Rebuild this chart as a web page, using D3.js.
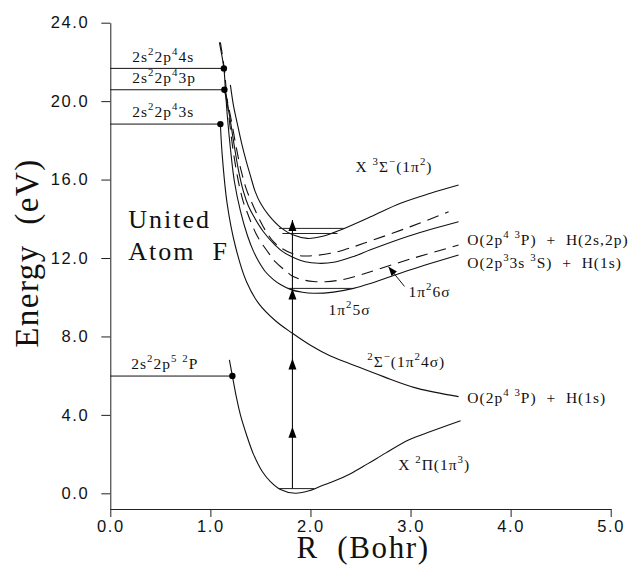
<!DOCTYPE html>
<html>
<head>
<meta charset="utf-8">
<script src="https://cdn.jsdelivr.net/npm/d3@7"></script>
<style>
body { margin: 0; background: #fff; }
text { fill: #111; white-space: pre; }
</style>
</head>
<body>
<svg id="chart" width="640" height="565"></svg>
<script>
var xTicks = [0, 1, 2, 3, 4, 5];
var yTicks = [0, 4, 8, 12, 16, 20, 24];

// potential curves as [R (bohr), E (eV)]
var groundX2Pi = [[1.19, 6.8], [1.22, 5.98], [1.26, 4.9], [1.30, 4.0], [1.36, 3.0], [1.43, 2.0],
    [1.52, 1.1], [1.60, 0.6], [1.70, 0.2], [1.85, 0], [2.0, 0.15], [2.1, 0.36], [2.25, 0.65],
    [2.4, 1.0], [2.57, 1.5], [2.75, 2.05], [2.98, 2.72], [3.2, 3.15], [3.5, 3.7]];

var sigma4 = [[1.10, 18.83], [1.117, 17.34], [1.167, 14.79], [1.25, 12.6], [1.36, 10.8],
    [1.48, 9.7], [1.65, 8.8], [1.82, 8.16], [2.0, 7.55], [2.2, 7.0], [2.4, 6.6], [2.73, 5.95],
    [3.07, 5.35], [3.48, 4.93]];

var sigma5 = [[1.09, 23.0], [1.135, 21.67], [1.15, 20.58], [1.17, 19.2], [1.20, 17.6], [1.24, 15.9],
    [1.30, 14.4], [1.37, 13.15], [1.43, 12.35], [1.48, 11.85], [1.55, 11.3], [1.63, 10.9],
    [1.70, 10.65], [1.80, 10.4], [1.92, 10.25], [2.03, 10.2], [2.23, 10.26], [2.43, 10.45],
    [2.6, 10.7], [3.0, 11.4], [3.48, 12.15]];

var sigma6 = [[1.10, 23.0], [1.14, 21.6], [1.16, 20.5], [1.19, 19.0], [1.23, 17.4], [1.28, 15.9],
    [1.33, 14.85], [1.363, 14.4], [1.397, 13.94], [1.463, 13.17], [1.513, 12.75], [1.597, 12.15],
    [1.647, 11.81], [1.763, 11.3], [1.813, 11.1], [1.90, 10.92], [2.03, 10.8], [2.15, 10.79],
    [2.33, 10.9], [2.45, 11.06], [2.6, 11.3], [3.0, 11.95], [3.48, 12.66]];

var midSolid = [[1.14, 20.58], [1.19, 19.3], [1.23, 18.0], [1.28, 16.5], [1.33, 15.4], [1.38, 14.65],
    [1.43, 14.15], [1.53, 13.34], [1.647, 12.66], [1.73, 12.3], [1.813, 12.07], [1.947, 11.81],
    [2.08, 11.73], [2.233, 11.78], [2.433, 12.08], [2.6, 12.42], [3.0, 13.15], [3.48, 13.85]];

var upperDashed = [[1.15, 20.5], [1.21, 19.0], [1.26, 17.6], [1.31, 16.4], [1.36, 15.5], [1.41, 14.87],
    [1.497, 13.9], [1.547, 13.43], [1.63, 12.83], [1.713, 12.49], [1.847, 12.17], [1.947, 12.1],
    [2.05, 12.13], [2.2, 12.24], [2.333, 12.41], [2.533, 12.75], [3.0, 13.6], [3.38, 14.36]];

var x3Sigma = [[1.20, 20.83], [1.23, 19.8], [1.267, 18.9], [1.31, 17.9], [1.36, 16.9], [1.40, 16.2],
    [1.447, 15.4], [1.50, 14.8], [1.58, 14.2], [1.713, 13.51], [1.83, 13.17], [1.967, 13.0],
    [2.133, 13.12], [2.3, 13.43], [2.6, 14.1], [2.9, 14.79], [3.2, 15.3], [3.48, 15.72]];

// united atom levels: energy and where the level meets its curve
var atomLevelE = [21.67, 20.58, 18.83, 5.98];
var atomLevelR = [1.135, 1.14, 1.10, 1.22];

// vibrational levels drawn as short horizontal bars
var vibE = [0.24, 10.45, 13.25, 13.51];
var vibR0 = [1.68, 1.783, 1.72, 1.685];
var vibR1 = [2.04, 2.417, 2.27, 2.335];

// vertical excitation line with arrowheads
var transitionR = 1.82;
var transitionE = [0.24, 13.94];
var arrowTipsE = [3.4, 6.88, 10.45, 13.94];

// pointer from the 1pi^2 6sigma label to its curve
var pointerFrom = [2.94, 10.55];
var pointerTo = [2.78, 11.55];

var labelText = ["2s^{2}2p^{4}4s", "2s^{2}2p^{4}3p", "2s^{2}2p^{4}3s", "2s^{2}2p^{5} ^{2}P",
    "X ^{3}Σ^{−}(1π^{2})", "O(2p^{4} ^{3}P)  +  H(2s,2p)", "O(2p^{3}3s ^{3}S)  +  H(1s)",
    "1π^{2}6σ", "1π^{2}5σ", "^{2}Σ^{−}(1π^{2}4σ)", "O(2p^{4} ^{3}P)  +  H(1s)", "X ^{2}Π(1π^{3})"];
var labelR = [0.22, 0.22, 0.22, 0.21, 2.45, 3.567, 3.567, 2.98, 2.18, 2.567, 3.567, 2.876];
var labelE = [22.01, 20.91, 19.19, 6.32, 16.4, 12.66, 11.47, 10.03, 9.09, 6.46, 4.59, 1.19];

var svg = d3.select("#chart");

var x = d3.scaleLinear().domain([0, 5]).range([110.3, 610.7]);
var y = d3.scaleLinear().domain([-0.8, 24]).range([509, 22.7]);

svg.append("rect").attr("width", 640).attr("height", 565).attr("fill", "#fff");

// axes
var yAxis = svg.append("g")
    .attr("transform", "translate(" + x(0) + ",0)")
    .call(d3.axisLeft(y).tickValues(yTicks).tickFormat(d3.format(".1f"))
        .tickSize(9).tickSizeOuter(0).tickPadding(12));

var xAxis = svg.append("g")
    .attr("transform", "translate(0," + y(-0.8) + ")")
    .call(d3.axisBottom(x).tickValues(xTicks).tickFormat(d3.format(".1f"))
        .tickSize(8).tickSizeOuter(0).tickPadding(3));

[yAxis, xAxis].forEach(function(a) {
    a.selectAll("path, line").attr("stroke", "#222").attr("stroke-width", 1);
    a.selectAll("text")
        .attr("font-family", "'Liberation Sans', Arial, sans-serif")
        .attr("font-size", 16.5)
        .attr("letter-spacing", 1.6)
        .attr("fill", "#222");
});

svg.append("text")
    .attr("transform", "translate(38,253) rotate(-90)")
    .attr("text-anchor", "middle")
    .attr("font-family", "'Liberation Serif', 'Times New Roman', serif")
    .attr("font-size", 33)
    .attr("letter-spacing", 1.5)
    .text("Energy\u00a0\u00a0(eV)");

svg.append("text")
    .attr("x", 363).attr("y", 558)
    .attr("text-anchor", "middle")
    .attr("font-family", "'Liberation Serif', 'Times New Roman', serif")
    .attr("font-size", 31)
    .attr("letter-spacing", 1.6)
    .text("R\u00a0\u00a0(Bohr)");

// curves
var curves = [
    {pts: groundX2Pi, dashed: false},
    {pts: sigma4, dashed: false},
    {pts: sigma5, dashed: false},
    {pts: sigma6, dashed: true},
    {pts: midSolid, dashed: false},
    {pts: upperDashed, dashed: true},
    {pts: x3Sigma, dashed: false}
];

var line = d3.line()
    .x(d => x(d[0]))
    .y(d => y(d[1]))
    .curve(d3.curveCatmullRom.alpha(0.5));

svg.append("g")
    .attr("fill", "none")
    .attr("stroke", "#111")
    .attr("stroke-width", 1.1)
    .selectAll("path")
    .data(curves)
    .join("path")
        .attr("d", d => line(d.pts))
        .attr("stroke-dasharray", d => d.dashed ? "12,7" : null);

// united atom levels
var levels = atomLevelE.map((e, i) => ({e: e, r: atomLevelR[i]}));
svg.append("g").selectAll("line")
    .data(levels)
    .join("line")
        .attr("x1", x(0)).attr("x2", d => x(d.r))
        .attr("y1", d => y(d.e)).attr("y2", d => y(d.e))
        .attr("stroke", "#111").attr("stroke-width", 1);
svg.append("g").selectAll("circle")
    .data(levels)
    .join("circle")
        .attr("cx", d => x(d.r)).attr("cy", d => y(d.e))
        .attr("r", 3.2).attr("fill", "#000");

// vibrational levels
svg.append("g").selectAll("line")
    .data(vibE.map((e, i) => ({e: e, r0: vibR0[i], r1: vibR1[i]})))
    .join("line")
        .attr("x1", d => x(d.r0)).attr("x2", d => x(d.r1))
        .attr("y1", d => y(d.e)).attr("y2", d => y(d.e))
        .attr("stroke", "#222").attr("stroke-width", 1);

// vertical transition
svg.append("line")
    .attr("x1", x(transitionR)).attr("x2", x(transitionR))
    .attr("y1", y(transitionE[0])).attr("y2", y(transitionE[1]))
    .attr("stroke", "#111").attr("stroke-width", 1.1);

svg.append("g").selectAll("path")
    .data(arrowTipsE)
    .join("path")
        .attr("d", e => {
            var cx = x(transitionR), ty = y(e);
            return "M" + cx + "," + ty + "L" + (cx - 4) + "," + (ty + 11) + "L" + (cx + 4) + "," + (ty + 11) + "Z";
        })
        .attr("fill", "#000");

// pointer arrow for 1pi^2 6sigma
(function() {
    var x1 = x(pointerFrom[0]), y1 = y(pointerFrom[1]);
    var x2 = x(pointerTo[0]), y2 = y(pointerTo[1]);
    var ang = Math.atan2(y2 - y1, x2 - x1);
    svg.append("line")
        .attr("x1", x1).attr("y1", y1).attr("x2", x2).attr("y2", y2)
        .attr("stroke", "#111").attr("stroke-width", 1);
    var L = 9, W = 3.5;
    var bx = x2 - L * Math.cos(ang), by = y2 - L * Math.sin(ang);
    var px = -Math.sin(ang) * W, py = Math.cos(ang) * W;
    svg.append("path")
        .attr("d", "M" + x2 + "," + y2 + "L" + (bx + px) + "," + (by + py) + "L" + (bx - px) + "," + (by - py) + "Z")
        .attr("fill", "#000");
})();

// labels with superscripts written as ^{..}
function richText(sel, str, fs) {
    var parts = str.split(/\^\{([^}]*)\}/);
    var shift = Math.round(fs * 0.42);
    var raised = false;
    parts.forEach(function(p, i) {
        if (!p) return;
        var sup = i % 2 === 1;
        var t = sel.append("tspan").text(p);
        if (sup) {
            t.attr("font-size", fs * 0.7);
            if (!raised) { t.attr("dy", -shift); raised = true; }
        } else if (raised) {
            t.attr("dy", shift); raised = false;
        }
    });
}

var labels = labelText.map((t, i) => ({t: t, r: labelR[i], e: labelE[i]}));
svg.append("g")
    .attr("font-family", "'Liberation Serif', 'Times New Roman', serif")
    .attr("font-size", 15.5)
    .attr("letter-spacing", 1)
    .selectAll("text")
    .data(labels)
    .join("text")
        .attr("x", d => x(d.r))
        .attr("y", d => y(d.e))
        .each(function(d) { richText(d3.select(this), d.t, 15.5); });

var ua = svg.append("g")
    .attr("font-family", "'Liberation Serif', 'Times New Roman', serif")
    .attr("font-size", 26)
    .attr("letter-spacing", 2);
ua.append("text").attr("x", x(0.18)).attr("y", y(13.53)).text("United");
ua.append("text").attr("x", x(0.18)).attr("y", y(11.9)).text("Atom\u00a0\u00a0F");
</script>
</body>
</html>
